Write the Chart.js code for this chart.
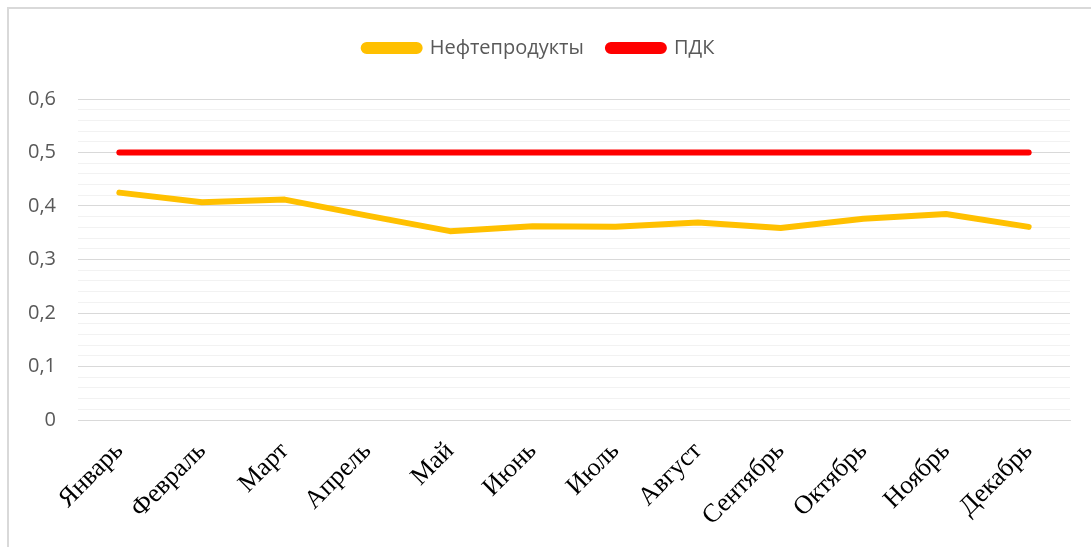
<!DOCTYPE html>
<html>
<head>
<meta charset="utf-8">
<script src="https://cdn.jsdelivr.net/npm/chart.js@4"></script>
<style>
  html, body { margin: 0; padding: 0; background: #fff; }
  #wrap { position: relative; width: 1091px; height: 547px; overflow: hidden; }
  #frame { position: absolute; left: 7px; top: 7px; width: 1200px; height: 700px;
           border-left: 2px solid #d9d9d9; border-top: 2px solid #d9d9d9; }
  canvas { position: absolute; left: 0; top: 0; }
</style>
</head>
<body>
<div id="wrap">
  <div id="frame"></div>
  <canvas id="chart" width="1091" height="547"></canvas>
</div>
<script>
// Данные графика
const months = ["Январь", "Февраль", "Март", "Апрель", "Май", "Июнь",
  "Июль", "Август", "Сентябрь", "Октябрь", "Ноябрь", "Декабрь"];
const oilProducts = [0.425, 0.407, 0.412, 0.382, 0.353, 0.362,
  0.361, 0.369, 0.359, 0.376, 0.385, 0.361];
const pdk = [0.5, 0.5, 0.5, 0.5, 0.5, 0.5, 0.5, 0.5, 0.5, 0.5, 0.5, 0.5];
const yMax = 0.6;
const yStep = 0.02;

const isMajor = (v) => Math.round(v * 100) % 10 === 0;

// Лишнее место под легендой
const legendGap = {
  id: "legendGap",
  beforeInit(chart) {
    const fit = chart.legend.fit;
    chart.legend.fit = function () {
      fit.call(this);
      this.height += 31;
    };
  },
};

new Chart(document.getElementById("chart").getContext("2d"), {
  type: "line",
  data: {
    labels: months,
    datasets: [
      {
        label: "Нефтепродукты",
        data: oilProducts,
        borderColor: "#ffc000",
        backgroundColor: "#ffc000",
        borderWidth: 6,
        borderCapStyle: "round",
        borderJoinStyle: "round",
        pointRadius: 0,
        tension: 0,
      },
      {
        label: "ПДК",
        data: pdk,
        borderColor: "#ff0000",
        backgroundColor: "#ff0000",
        borderWidth: 6,
        borderCapStyle: "round",
        pointRadius: 0,
        tension: 0,
      },
    ],
  },
  plugins: [legendGap],
  options: {
    responsive: false,
    animation: false,
    layout: { padding: { left: 8, right: 21, top: 14, bottom: 0 } },
    plugins: {
      tooltip: { enabled: false },
      legend: {
        position: "top",
        labels: {
          color: "#595959",
          boxWidth: 56,
          boxHeight: 6,
          useBorderRadius: true,
          borderRadius: 3,
          padding: 24,
          font: { family: "'Open Sans', sans-serif", size: 20 },
        },
      },
    },
    scales: {
      x: {
        offset: true,
        grid: { display: false, drawTicks: false },
        border: { color: "#d9d9d9", width: 1 },
        ticks: {
          color: "#000",
          minRotation: 45,
          maxRotation: 45,
          padding: 16,
          font: { family: "'Liberation Serif', serif", size: 26 },
        },
        afterFit: (scale) => { scale.height = 127; },
      },
      y: {
        min: 0,
        max: yMax,
        border: { display: false },
        grid: {
          drawTicks: false,
          color: (ctx) => (isMajor(ctx.tick.value) ? "#d9d9d9" : "#f2f2f2"),
        },
        ticks: {
          stepSize: yStep,
          autoSkip: false,
          padding: 22,
          color: "#595959",
          font: { family: "'Open Sans', sans-serif", size: 20 },
          callback: (v) => (isMajor(v) ? String(Math.round(v * 10) / 10).replace(".", ",") : ""),
        },
        afterFit: (scale) => { scale.width = 70; },
      },
    },
  },
});
</script>
</body>
</html>
